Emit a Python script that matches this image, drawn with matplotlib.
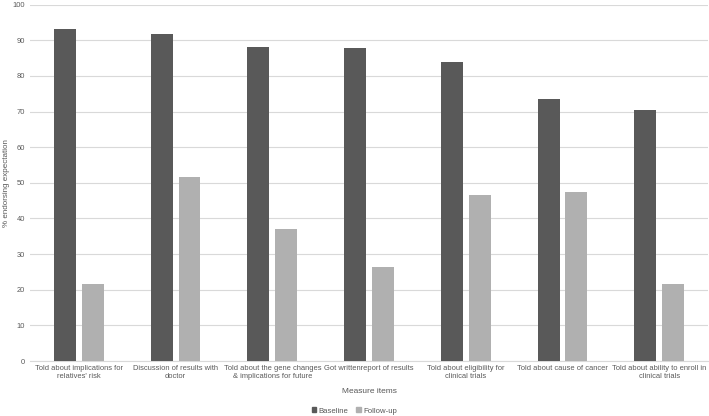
import numpy as np
import matplotlib.pyplot as plt
from matplotlib.patches import Patch

plt.rcParams['font.family'] = 'Liberation Sans'

# --- data ---
categories = [
    "Told about implications for\nrelatives' risk",
    "Discussion of results with\ndoctor",
    "Told about the gene changes\n& implications for future",
    "Got writtenreport of results",
    "Told about eligibility for\nclinical trials",
    "Told about cause of cancer",
    "Told about ability to enroll in\nclinical trials",
]
baseline = [93.1, 91.7, 88.2, 87.7, 83.8, 73.5, 70.4]
follow_up = [21.5, 51.7, 37.1, 26.3, 46.6, 47.3, 21.6]
y_ticks = [0, 10, 20, 30, 40, 50, 60, 70, 80, 90, 100]

c_base = '#595959'
c_follow = '#b0b0b0'
c_text = '#595959'

fig = plt.figure(figsize=(7.09, 4.16), dpi=100)
ax = fig.add_axes([0.043, 0.132, 0.955, 0.857])

x = np.arange(len(categories))
w = 0.227
ax.bar(x - 0.144, baseline, w, color=c_base, label='Baseline', zorder=3)
ax.bar(x + 0.144, follow_up, w, color=c_follow, label='Follow-up', zorder=3)

ax.set_xlim(-0.5, len(categories) - 0.5)
ax.set_ylim(0, 100)
ax.set_yticks(y_ticks)
ax.set_xticks(x)
ax.set_xticklabels(categories, fontsize=5.4, color=c_text, linespacing=1.1)
ax.tick_params(axis='y', labelsize=5.4, colors=c_text, length=0, pad=4)
ax.tick_params(axis='x', length=0, pad=3)
ax.grid(axis='y', color='#d9d9d9', lw=0.8, zorder=0)

for s in ['top', 'right', 'left']:
    ax.spines[s].set_visible(False)
ax.spines['bottom'].set_color('#d9d9d9')
ax.spines['bottom'].set_linewidth(0.8)

ax.set_xlabel('Measure items', fontsize=6, color=c_text, labelpad=6)
ax.set_ylabel('% endorsing expectation', fontsize=5.8, color=c_text, labelpad=2)

handles = [Patch(color=c_base, label='Baseline'), Patch(color=c_follow, label='Follow-up')]
fig.legend(handles=handles, loc='center', bbox_to_anchor=(0.5, 0.012), ncol=2,
           frameon=False, fontsize=5.6, labelcolor=c_text, handlelength=0.6,
           handleheight=0.6, handletextpad=0.3, columnspacing=1.0)

fig.savefig('out.png', dpi=100)
